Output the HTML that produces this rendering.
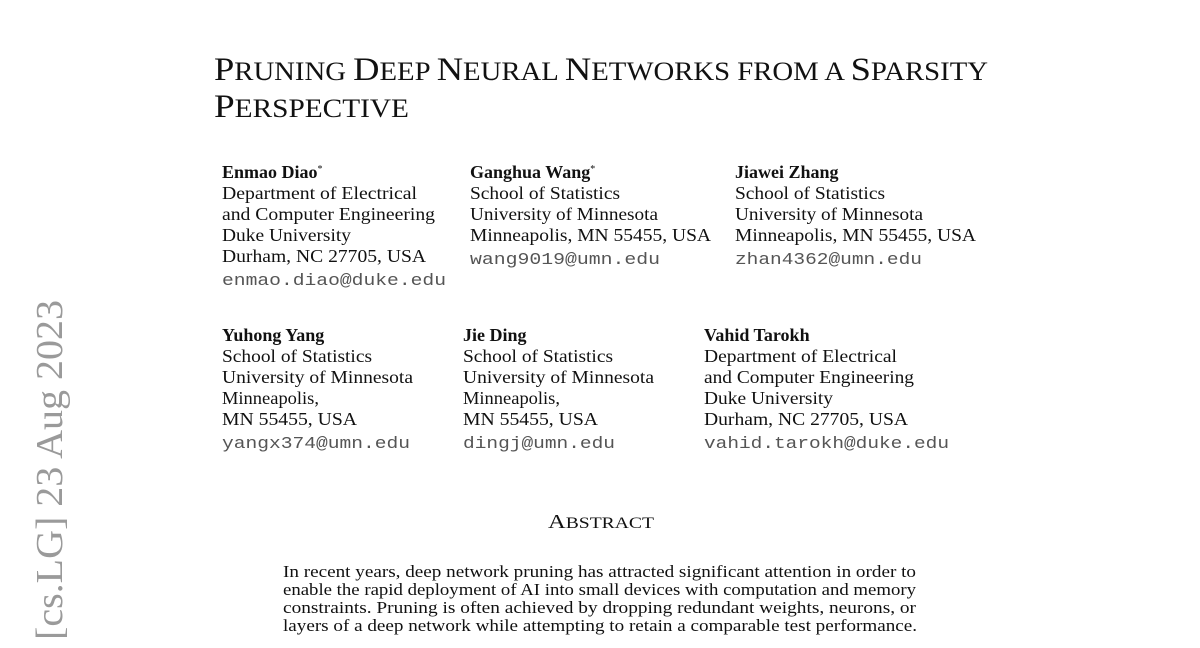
<!DOCTYPE html>
<html><head><meta charset="utf-8"><style>
html,body{margin:0;padding:0;background:#fff;width:1200px;height:648px;overflow:hidden}
svg text{font-family:"Liberation Serif",serif;fill:#111}
.s{font-size:18px}
.b{font-weight:bold}
.m{font-family:"Liberation Mono",monospace !important;font-size:17px;fill:#555 !important}
.a{font-size:16.5px}
</style></head><body>
<svg width="1200" height="648" viewBox="0 0 1200 648" xmlns="http://www.w3.org/2000/svg">
<text x="214" y="80" textLength="774" lengthAdjust="spacingAndGlyphs" style="font-size:33px"><tspan>P</tspan><tspan style="font-size:26px">RUNING </tspan><tspan>D</tspan><tspan style="font-size:26px">EEP </tspan><tspan>N</tspan><tspan style="font-size:26px">EURAL </tspan><tspan>N</tspan><tspan style="font-size:26px">ETWORKS FROM A </tspan><tspan>S</tspan><tspan style="font-size:26px">PARSITY</tspan></text>
<text x="214" y="117" textLength="195" lengthAdjust="spacingAndGlyphs" style="font-size:33px"><tspan>P</tspan><tspan style="font-size:26px">ERSPECTIVE</tspan></text>

<text class="s b" x="222" y="178">Enmao Diao<tspan style="font-size:10px;font-weight:normal" dy="-6">*</tspan></text>
<text class="s" x="222" y="199" textLength="195" lengthAdjust="spacingAndGlyphs">Department of Electrical</text>
<text class="s" x="222" y="220" textLength="213" lengthAdjust="spacingAndGlyphs">and Computer Engineering</text>
<text class="s" x="222" y="241" textLength="129" lengthAdjust="spacingAndGlyphs">Duke University</text>
<text class="s" x="222" y="262" textLength="204" lengthAdjust="spacingAndGlyphs">Durham, NC 27705, USA</text>
<text class="m" x="222" y="285" textLength="224" lengthAdjust="spacingAndGlyphs">enmao.diao@duke.edu</text>

<text class="s b" x="470" y="178">Ganghua Wang<tspan style="font-size:10px;font-weight:normal" dy="-6">*</tspan></text>
<text class="s" x="470" y="199" textLength="150" lengthAdjust="spacingAndGlyphs">School of Statistics</text>
<text class="s" x="470" y="220" textLength="188" lengthAdjust="spacingAndGlyphs">University of Minnesota</text>
<text class="s" x="470" y="241" textLength="241" lengthAdjust="spacingAndGlyphs">Minneapolis, MN 55455, USA</text>
<text class="m" x="470" y="264" textLength="190" lengthAdjust="spacingAndGlyphs">wang9019@umn.edu</text>

<text class="s b" x="735" y="178">Jiawei Zhang</text>
<text class="s" x="735" y="199" textLength="150" lengthAdjust="spacingAndGlyphs">School of Statistics</text>
<text class="s" x="735" y="220" textLength="188" lengthAdjust="spacingAndGlyphs">University of Minnesota</text>
<text class="s" x="735" y="241" textLength="241" lengthAdjust="spacingAndGlyphs">Minneapolis, MN 55455, USA</text>
<text class="m" x="735" y="264" textLength="187" lengthAdjust="spacingAndGlyphs">zhan4362@umn.edu</text>

<text class="s b" x="222" y="341">Yuhong Yang</text>
<text class="s" x="222" y="362" textLength="150" lengthAdjust="spacingAndGlyphs">School of Statistics</text>
<text class="s" x="222" y="383" textLength="191" lengthAdjust="spacingAndGlyphs">University of Minnesota</text>
<text class="s" x="222" y="404" textLength="97" lengthAdjust="spacingAndGlyphs">Minneapolis,</text>
<text class="s" x="222" y="425" textLength="135" lengthAdjust="spacingAndGlyphs">MN 55455, USA</text>
<text class="m" x="222" y="448" textLength="188" lengthAdjust="spacingAndGlyphs">yangx374@umn.edu</text>

<text class="s b" x="463" y="341">Jie Ding</text>
<text class="s" x="463" y="362" textLength="150" lengthAdjust="spacingAndGlyphs">School of Statistics</text>
<text class="s" x="463" y="383" textLength="191" lengthAdjust="spacingAndGlyphs">University of Minnesota</text>
<text class="s" x="463" y="404" textLength="97" lengthAdjust="spacingAndGlyphs">Minneapolis,</text>
<text class="s" x="463" y="425" textLength="135" lengthAdjust="spacingAndGlyphs">MN 55455, USA</text>
<text class="m" x="463" y="448" textLength="152" lengthAdjust="spacingAndGlyphs">dingj@umn.edu</text>

<text class="s b" x="704" y="341">Vahid Tarokh</text>
<text class="s" x="704" y="362" textLength="193" lengthAdjust="spacingAndGlyphs">Department of Electrical</text>
<text class="s" x="704" y="383" textLength="210" lengthAdjust="spacingAndGlyphs">and Computer Engineering</text>
<text class="s" x="704" y="404" textLength="129" lengthAdjust="spacingAndGlyphs">Duke University</text>
<text class="s" x="704" y="425" textLength="204" lengthAdjust="spacingAndGlyphs">Durham, NC 27705, USA</text>
<text class="m" x="704" y="448" textLength="245" lengthAdjust="spacingAndGlyphs">vahid.tarokh@duke.edu</text>

<text x="548" y="528" textLength="106" lengthAdjust="spacingAndGlyphs" style="font-size:20px">A<tspan style="font-size:16px">BSTRACT</tspan></text>

<text class="a" x="283" y="577" textLength="633" lengthAdjust="spacingAndGlyphs">In recent years, deep network pruning has attracted significant attention in order to</text>
<text class="a" x="283" y="595" textLength="633" lengthAdjust="spacingAndGlyphs">enable the rapid deployment of AI into small devices with computation and memory</text>
<text class="a" x="283" y="613" textLength="633" lengthAdjust="spacingAndGlyphs">constraints. Pruning is often achieved by dropping redundant weights, neurons, or</text>
<text class="a" x="283" y="631" textLength="634" lengthAdjust="spacingAndGlyphs">layers of a deep network while attempting to retain a comparable test performance.</text>

<text transform="translate(62,640) rotate(-90)" x="0" y="0" textLength="340" lengthAdjust="spacingAndGlyphs" style="font-size:38px;fill:#9a9a9a;font-family:'Liberation Serif',serif">[cs.LG]  23 Aug 2023</text>
</svg>
</body></html>
